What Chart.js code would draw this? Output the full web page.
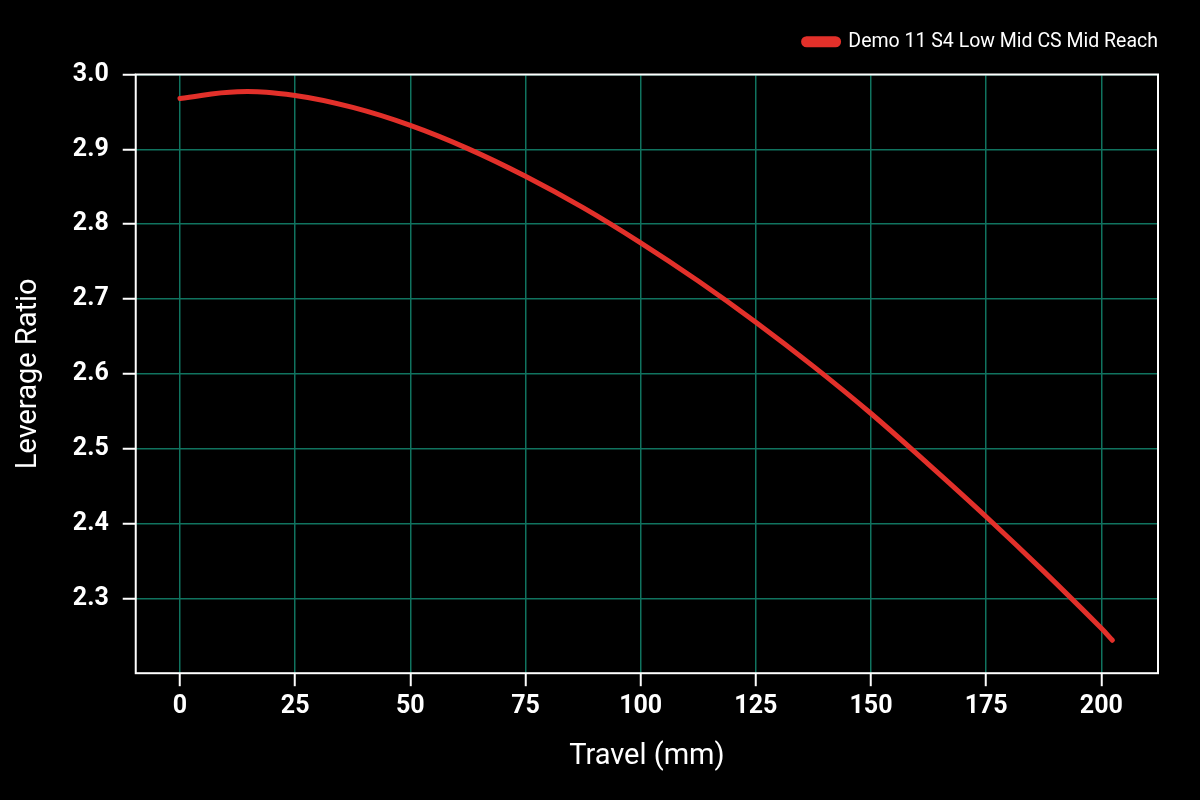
<!DOCTYPE html>
<html>
<head>
<meta charset="utf-8">
<script src="https://cdn.jsdelivr.net/npm/chart.js@4"></script>
<style>
  html, body { margin: 0; padding: 0; background: #000; }
  canvas { display: block; }
</style>
</head>
<body>
<canvas id="leverage" width="1200" height="800"></canvas>
<script>
// travel (mm) and leverage ratio
const travel = [0, 12.5, 25, 37.5, 50, 62.5, 75, 87.5, 100, 112.5, 125, 137.5, 150, 162.5, 175, 187.5, 200, 202.4]
const leverage = [2.968, 2.977, 2.972, 2.956, 2.932, 2.901, 2.864, 2.822, 2.775, 2.724, 2.669, 2.610, 2.547, 2.479, 2.409, 2.336, 2.260, 2.244]
const xTicks = [0, 25, 50, 75, 100, 125, 150, 175, 200]
const yTicks = [2.3, 2.4, 2.5, 2.6, 2.7, 2.8, 2.9, 3.0]
const serieNome = 'Demo 11 S4 Low Mid CS Mid Reach'

const VERMELHO = '#e2302a'
const GRADE = '#10735f'
const FONTE = 'Roboto, "Liberation Sans", sans-serif'

var pontos = travel.map((t, i) => ({ x: t, y: leverage[i] }))

// white frame round the plot area
const moldura = {
    id: 'moldura',
    afterDatasetsDraw(chart) {
        const a = chart.chartArea
        const c = chart.ctx
        c.save()
        c.strokeStyle = '#ffffff'
        c.lineWidth = 2
        c.strokeRect(a.left, a.top, a.right - a.left, a.bottom - a.top)
        c.restore()
    }
}

// extra room under the legend
const espacoLegenda = {
    id: 'espacoLegenda',
    beforeInit(chart) {
        const fitOrig = chart.legend.fit
        chart.legend.fit = function () {
            fitOrig.call(this)
            this.height += 13
        }
    }
}

var ctx = document.getElementById('leverage').getContext('2d');
var chartLeverage = new Chart(ctx, {
    type: 'line',
    data: {
        datasets: [{
            label: serieNome,
            data: pontos,
            borderColor: VERMELHO,
            backgroundColor: VERMELHO,
            borderWidth: 5,
            borderCapStyle: 'round',
            pointRadius: 0,
            tension: 0.4,
            fill: false
        }]
    },
    options: {
        responsive: false,
        animation: false,
        layout: { padding: { top: 32, right: 42, bottom: 26, left: 4 } },
        plugins: {
            legend: {
                position: 'top',
                align: 'end',
                labels: {
                    color: '#ffffff',
                    font: { family: FONTE, size: 19.5 },
                    boxWidth: 35,
                    boxHeight: 6,
                    useBorderRadius: true,
                    borderRadius: 3,
                    padding: 0
                }
            },
            tooltip: { enabled: false }
        },
        scales: {
            x: {
                type: 'linear',
                min: -9.6,
                max: 212.3,
                afterBuildTicks: (scale) => { scale.ticks = xTicks.map(v => ({ value: v })) },
                border: { display: false },
                grid: { color: GRADE, lineWidth: 1.5, tickColor: '#ffffff', tickLength: 13, tickWidth: 2 },
                ticks: {
                    color: '#ffffff',
                    padding: 6,
                    maxRotation: 0,
                    font: { family: FONTE, size: 25, weight: 'bold' }
                },
                title: {
                    display: true,
                    text: 'Travel (mm)',
                    color: '#ffffff',
                    font: { family: FONTE, size: 29 },
                    padding: { top: 11, bottom: 0 }
                }
            },
            y: {
                type: 'linear',
                min: 2.2,
                max: 3.0,
                afterBuildTicks: (scale) => { scale.ticks = yTicks.map(v => ({ value: v })) },
                border: { display: false },
                grid: { color: GRADE, lineWidth: 1.5, tickColor: '#ffffff', tickLength: 13, tickWidth: 2 },
                ticks: {
                    color: '#ffffff',
                    padding: 14,
                    font: { family: FONTE, size: 25, weight: 'bold' },
                    callback: (v) => Number(v).toFixed(1)
                },
                title: {
                    display: true,
                    text: 'Leverage Ratio',
                    color: '#ffffff',
                    font: { family: FONTE, size: 29 },
                    padding: { top: 7, bottom: 13 }
                }
            }
        }
    },
    plugins: [moldura, espacoLegenda]
})
</script>
</body>
</html>
